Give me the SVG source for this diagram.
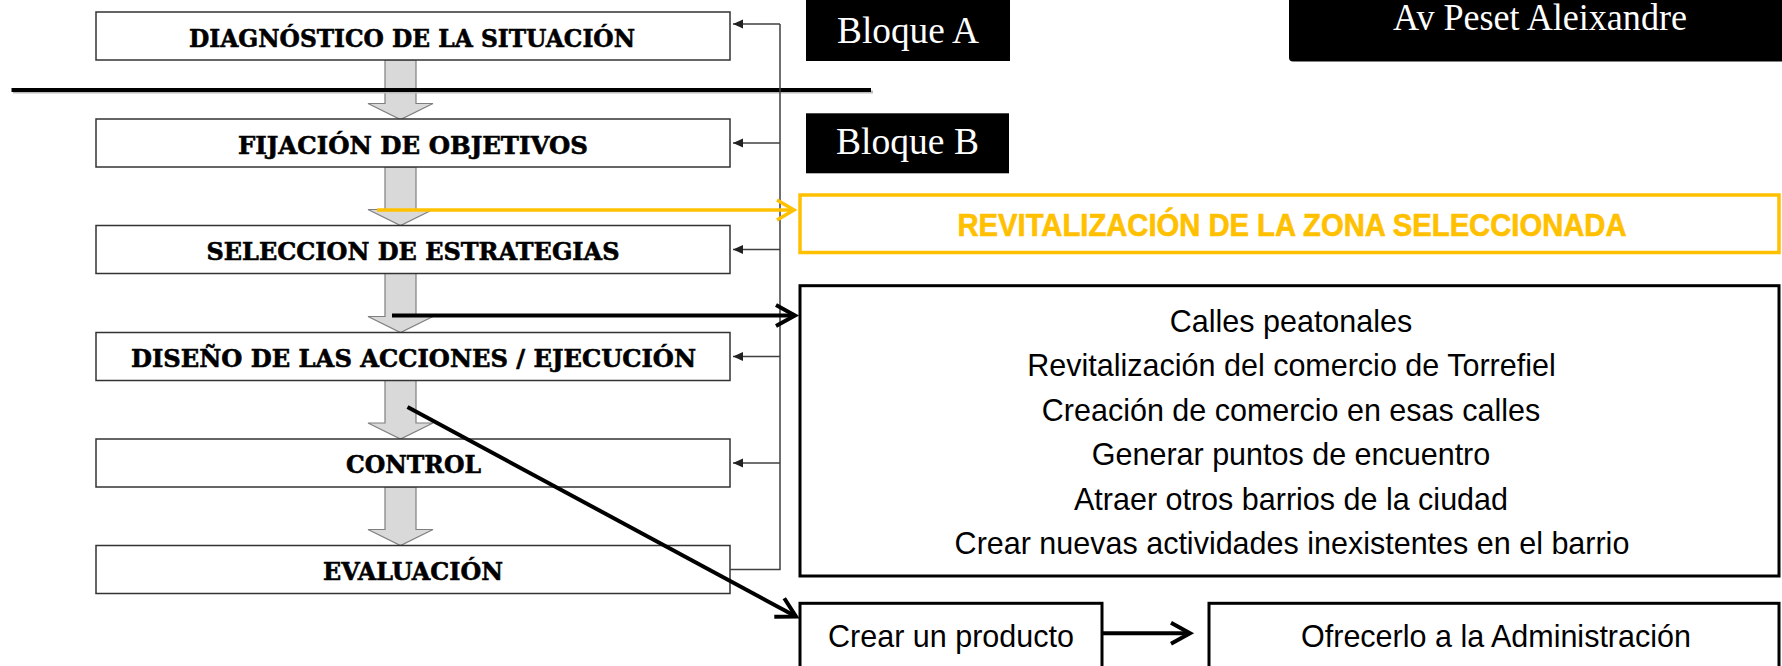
<svg xmlns="http://www.w3.org/2000/svg" width="1782" height="666" viewBox="0 0 1782 666">
<style>
.step{fill:#fff;stroke:#333;stroke-width:1.5}
.lbl{font-family:"DejaVu Serif","Liberation Serif",serif;font-weight:bold;font-size:25px;fill:#000;stroke:#000;stroke-width:0.6;text-anchor:middle}
.blk{fill:#000}
.blkt{font-family:"Liberation Serif","Times New Roman",serif;font-size:38px;fill:#fff;text-anchor:middle}
.sans{font-family:"Liberation Sans",Arial,sans-serif;font-size:30.5px;fill:#000;text-anchor:middle}
.garrow{fill:#d9d9d9;stroke:#7f7f7f;stroke-width:1.2}
.fb{fill:none;stroke:#404040;stroke-width:1.5}
.box{fill:#fff;stroke:#000;stroke-width:3}
</style>
<defs>
<marker id="tri" markerUnits="userSpaceOnUse" markerWidth="14" markerHeight="14" viewBox="-12 -7 14 14" refX="0" refY="0" orient="auto">
<path d="M-10,-4.5 L0,0 L-10,4.5 Z" fill="#222"/>
</marker>
<marker id="chevK" markerUnits="userSpaceOnUse" markerWidth="32" markerHeight="32" viewBox="-26 -16 32 32" refX="0" refY="0" orient="auto">
<path d="M-19,-10.5 L0,0 L-19,10.5" fill="none" stroke="#000" stroke-width="4" stroke-linejoin="miter"/>
</marker>
<marker id="chevY" markerUnits="userSpaceOnUse" markerWidth="32" markerHeight="32" viewBox="-26 -16 32 32" refX="0" refY="0" orient="auto">
<path d="M-17,-10 L0,0 L-17,10" fill="none" stroke="#FFC000" stroke-width="3.5" stroke-linejoin="miter"/>
</marker>
</defs>

<g id="flow-arrows">
<path class="garrow" d="M385,60 V103.5 H368 L400.5,119.5 L433,103.5 H416 V60 Z"/>
<path class="garrow" d="M385,167 V209.5 H368 L400.5,225.5 L433,209.5 H416 V167 Z"/>
<path class="garrow" d="M385,273.5 V316.5 H368 L400.5,332.5 L433,316.5 H416 V273.5 Z"/>
<path class="garrow" d="M385,380.5 V423 H368 L400.5,439 L433,423 H416 V380.5 Z"/>
<path class="garrow" d="M385,487 V529.5 H368 L400.5,545.5 L433,529.5 H416 V487 Z"/>
</g>

<g id="n-diagnostico">
<rect class="step" x="96" y="12" width="634" height="48"/>
<text class="lbl" x="412" y="47.3" textLength="446" lengthAdjust="spacingAndGlyphs">DIAGNÓSTICO DE LA SITUACIÓN</text>
</g>
<g id="n-fijacion">
<rect class="step" x="96" y="119" width="634" height="48"/>
<text class="lbl" x="413" y="153.5" textLength="350" lengthAdjust="spacingAndGlyphs">FIJACIÓN DE OBJETIVOS</text>
</g>
<g id="n-seleccion">
<rect class="step" x="96" y="225.5" width="634" height="48"/>
<text class="lbl" x="413" y="260" textLength="413" lengthAdjust="spacingAndGlyphs">SELECCION DE ESTRATEGIAS</text>
</g>
<g id="n-diseno">
<rect class="step" x="96" y="332.5" width="634" height="48"/>
<text class="lbl" x="413.5" y="366.7" textLength="565" lengthAdjust="spacingAndGlyphs">DISEÑO DE LAS ACCIONES / EJECUCIÓN</text>
</g>
<g id="n-control">
<rect class="step" x="96" y="439" width="634" height="48"/>
<text class="lbl" x="413.5" y="473.3" textLength="135" lengthAdjust="spacingAndGlyphs">CONTROL</text>
</g>
<g id="n-evaluacion">
<rect class="step" x="96" y="545.5" width="634" height="48"/>
<text class="lbl" x="413" y="579.5" textLength="180" lengthAdjust="spacingAndGlyphs">EVALUACIÓN</text>
</g>

<g id="divider">
<line x1="13" y1="92" x2="873" y2="92" stroke="#bbb" stroke-width="3"/>
<line x1="11.5" y1="90" x2="871" y2="90" stroke="#000" stroke-width="4"/>
</g>

<g id="n-bloque-a">
<rect class="blk" x="806" y="-5" width="204" height="66"/>
<text class="blkt" x="908" y="42.7" textLength="142" lengthAdjust="spacingAndGlyphs">Bloque A</text>
</g>
<g id="n-bloque-b">
<rect class="blk" x="806" y="113.3" width="203" height="60"/>
<text class="blkt" x="907.5" y="154" textLength="143" lengthAdjust="spacingAndGlyphs">Bloque B</text>
</g>
<g id="n-av-peset">
<rect class="blk" x="1289" y="-10" width="510" height="71.5" rx="4"/>
<text class="blkt" x="1540" y="29.5" font-size="37" textLength="294" lengthAdjust="spacingAndGlyphs">Av Peset Aleixandre</text>
</g>

<g id="n-revitalizacion">
<rect x="800" y="195" width="979" height="57.5" fill="#fff" stroke="#FFC000" stroke-width="3.5"/>
<text x="1292" y="236" font-family="'Liberation Sans',Arial,sans-serif" font-weight="bold" font-size="30.5" fill="#FFC000" stroke="#FFC000" stroke-width="0.6" text-anchor="middle" textLength="669" lengthAdjust="spacingAndGlyphs">REVITALIZACIÓN DE LA ZONA SELECCIONADA</text>
</g>

<g id="n-acciones">
<rect class="box" x="800" y="285.7" width="979" height="290.3"/>
<text class="sans" x="1291" y="331.5">Calles peatonales</text>
<text class="sans" x="1291.5" y="376">Revitalización del comercio de Torrefiel</text>
<text class="sans" x="1291" y="420.5">Creación de comercio en esas calles</text>
<text class="sans" x="1291" y="465">Generar puntos de encuentro</text>
<text class="sans" x="1291" y="509.5">Atraer otros barrios de la ciudad</text>
<text class="sans" x="1292" y="554">Crear nuevas actividades inexistentes en el barrio</text>
</g>

<g id="n-producto">
<rect class="box" x="800" y="603.3" width="302" height="80"/>
<text class="sans" x="951" y="646.7">Crear un producto</text>
</g>
<g id="n-administracion">
<rect class="box" x="1209" y="603.3" width="570" height="80"/>
<text class="sans" x="1496" y="646.7">Ofrecerlo a la Administración</text>
</g>

<g id="connectors">
<path class="fb" d="M730,569.5 H780 V24"/>
<path class="fb" d="M780,24 H733" marker-end="url(#tri)"/>
<path class="fb" d="M780,143 H733" marker-end="url(#tri)"/>
<path class="fb" d="M780,249.5 H733" marker-end="url(#tri)"/>
<path class="fb" d="M780,356.5 H733" marker-end="url(#tri)"/>
<path class="fb" d="M780,463 H733" marker-end="url(#tri)"/>
<line x1="377" y1="210" x2="794" y2="210" stroke="#FFC000" stroke-width="3.5" marker-end="url(#chevY)"/>
<line x1="392" y1="315.5" x2="795" y2="315.5" stroke="#000" stroke-width="4" marker-end="url(#chevK)"/>
<line x1="407.5" y1="407" x2="796" y2="616.5" stroke="#000" stroke-width="4" marker-end="url(#chevK)"/>
<line x1="1102" y1="633.3" x2="1190" y2="633.3" stroke="#000" stroke-width="4" marker-end="url(#chevK)"/>
</g>
</svg>
